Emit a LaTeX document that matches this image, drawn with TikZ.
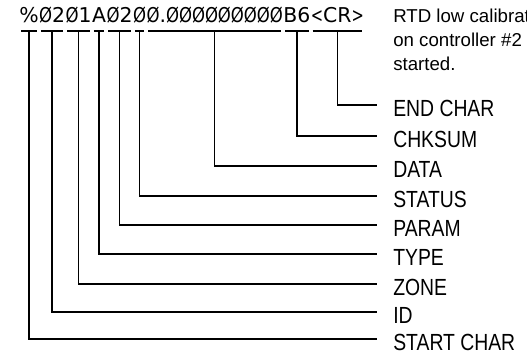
\documentclass[tikz,border=0pt]{standalone}
\usepackage{graphicx}
\usepackage{fontspec}
\setmainfont{Liberation Sans}
\newfontfamily\codefont{DejaVu Sans}
\newfontfamily\labelfont[FakeStretch=0.83]{Liberation Sans}
\usetikzlibrary{calc}
\newcommand\sz{\makebox[0.636em]{\scalebox{0.81}[1]{Ø}}}
\newcommand\narrowglyph[1]{\scalebox{0.72}[1]{#1}}
\begin{document}
\begin{tikzpicture}[x=0.75pt,y=-0.75pt,
  field/.style={inner sep=0pt, anchor=base west, font=\codefont\fontsize{15.3}{18}\selectfont},
  lbl/.style={inner sep=0pt, anchor=base west, font=\labelfont\fontsize{17.5}{21}\selectfont},
  note/.style={inner sep=0pt, anchor=base west, align=left, font=\fontsize{14}{18}\selectfont},
  conn/.style={line width=1pt, line join=miter}]
\useasboundingbox (0,0) rectangle (527,357);
% message string
\node[field] (fST) at (19,22) {\%};
\node[field] (fID) at (fST.base east) {\sz2};
\node[field] (fZN) at (fID.base east) {\sz1};
\node[field] (fTY) at (fZN.base east) {A};
\node[field] (fPA) at (fTY.base east) {\sz2};
\node[field] (fSS) at (fPA.base east) {\sz};
\node[field] (fDA) at (fSS.base east) {\sz.\sz\sz\sz\sz\sz\sz\sz\sz\sz};
\node[field] (fCK) at (fDA.base east) {B6};
\node[field] (fEN) at (fCK.base east) {\narrowglyph{<}CR\narrowglyph{>}};
% note (base anchor = last line)
\node[note] (note) at (393,70) {RTD low calibrat\\on controller \#2\\started.};
% labels
\node[lbl] (lEN) at (393,116) {END CHAR};
\node[lbl] (lCK) at (393,147) {CHKSUM};
\node[lbl] (lDA) at (393,177) {DATA};
\node[lbl] (lSS) at (393,207) {STATUS};
\node[lbl] (lPA) at (393,236) {PARAM};
\node[lbl] (lTY) at (393,265) {TYPE};
\node[lbl] (lZN) at (393,295) {ZONE};
\node[lbl] (lID) at (393,323) {ID};
\node[lbl] (lST) at (393,350) {START CHAR};
% brackets and leaders
\foreach \f in {ST,ID,ZN,TY,PA,SS,DA,CK,EN}{
  \draw[conn] ($(f\f.base west)+(2,9)$) -- ($(f\f.base east)+(-2,9)$);
  \draw[conn] ($(f\f.base)+(0,9)$) |- ($(l\f.base west)+(-16,-11)$);
}
\end{tikzpicture}
\end{document}
